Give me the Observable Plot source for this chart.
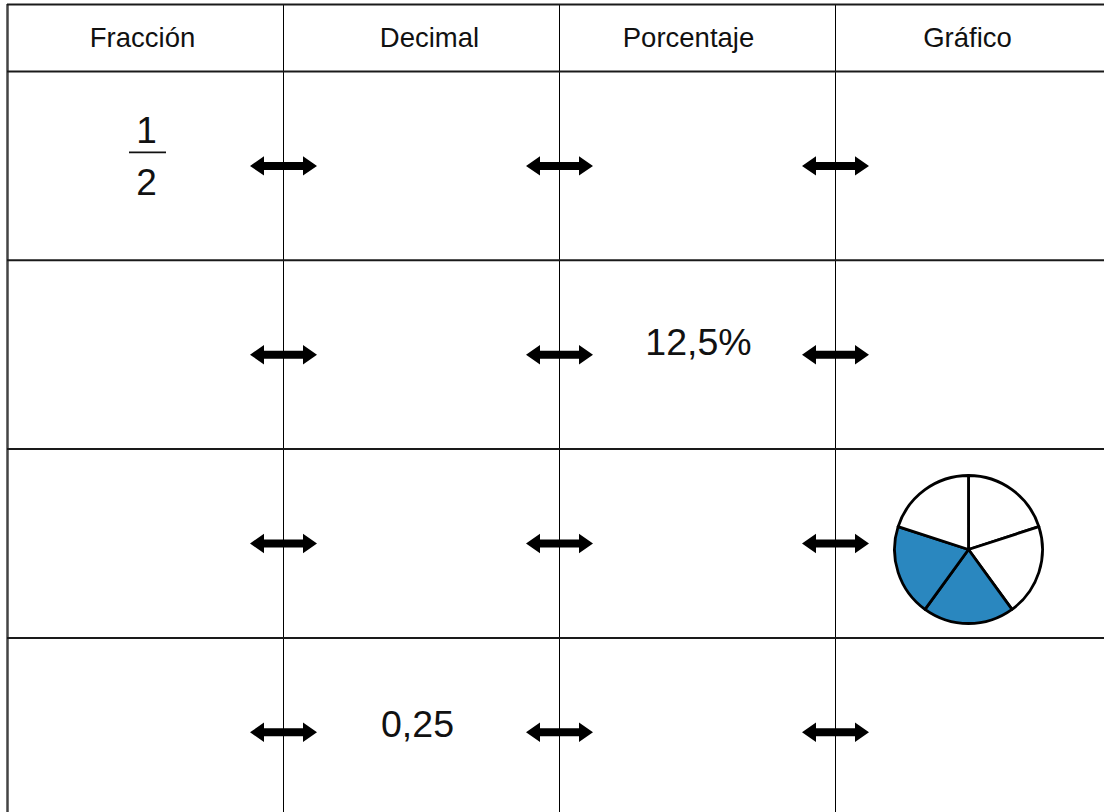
<!DOCTYPE html>
<html><head><meta charset="utf-8">
<script src="https://cdn.jsdelivr.net/npm/d3@7"></script>
<script src="https://cdn.jsdelivr.net/npm/@observablehq/plot@0.6"></script>
<style>html,body{margin:0;padding:0;background:#fff;} #chart svg{display:block;}</style>
</head><body><div id="chart"></div>
<script>
// ---- data ----
const headers = ["Fracción", "Decimal", "Porcentaje", "Gráfico"];
const rows = [0, 1, 2, 3];
const columnEdges = [1, 2, 3];
const fractionNumerator = "1";
const fractionDenominator = "2";
const fractionCell = {row: 0, col: 0};
const cellTexts = [
  {row: 1, col: 2, text: "12,5%"},
  {row: 3, col: 1, text: "0,25"}
];
const pieParts = [1, 1, 1, 1, 1];
const pieShaded = [false, false, true, true, false];
const pieCell = {row: 2, col: 3};

// ---- layout ----
const W = 1104, H = 812;
const ROW_PX = 188.8, HEADER_PX = 67, BODY_TOP_PX = 71;
const headerTop = -HEADER_PX / ROW_PX;
const headerMid = headerTop / 2;
const FONT = "Liberation Sans, Arial, Helvetica, sans-serif";

const arrowSymbol = {
  draw(ctx) {
    ctx.moveTo(-33.5, 0);
    ctx.lineTo(-19.5, -9.7);
    ctx.lineTo(-19.5, -4);
    ctx.lineTo(19.5, -4);
    ctx.lineTo(19.5, -9.7);
    ctx.lineTo(33.5, 0);
    ctx.lineTo(19.5, 9.7);
    ctx.lineTo(19.5, 4);
    ctx.lineTo(-19.5, 4);
    ctx.lineTo(-19.5, 9.7);
    ctx.closePath();
  }
};
const fractionBar = {
  draw(ctx) {
    ctx.moveTo(-18.5, -0.8);
    ctx.lineTo(18.5, -0.8);
    ctx.lineTo(18.5, 0.8);
    ctx.lineTo(-18.5, 0.8);
    ctx.closePath();
  }
};

const arrowData = rows.flatMap(r => columnEdges.map(c => ({row: r, edge: c})));
const horizontalEdges = [headerTop, ...rows];
const slices = d3.pie().sort(null).value(d => d)(pieParts)
  .map((s, i) => ({...s, shaded: pieShaded[i]}));
const arcGen = d3.arc().innerRadius(0).outerRadius(74);

const headerDx = [-3, 8, -9, -6];
const textOffsets = [{dx: 1, dy: -12}, {dx: -4, dy: -7}];

const sliceMarks = slices.map(s => Plot.dot([s], {
  x: () => pieCell.col + 0.5,
  y: () => pieCell.row + 0.5,
  dx: -5, dy: 6, r: 74,
  symbol: {draw(ctx) { arcGen.context(ctx)(s); arcGen.context(null); }},
  fill: s.shaded ? "#2a87bf" : "#ffffff",
  stroke: "#000", strokeWidth: 2.8, strokeLinejoin: "round"
}));

const chart = Plot.plot({
  width: W, height: H,
  margin: 0,
  style: {background: "#fff", fontFamily: FONT},
  x: {domain: [0, 4], range: [7, 1111], axis: null},
  y: {domain: [-BODY_TOP_PX / ROW_PX, (H - BODY_TOP_PX) / ROW_PX], range: [0, H], axis: null},
  marks: [
    // column dividers
    Plot.ruleX(columnEdges, {y1: headerTop, y2: 4.5, stroke: "#000", strokeWidth: 1}),
    // left border
    Plot.ruleX([0], {y1: headerTop, y2: 4.5, stroke: "#444", strokeWidth: 2.5}),
    // horizontal lines
    Plot.ruleY(horizontalEdges, {x1: 0, x2: 4.2, stroke: "#1a1a1a", strokeWidth: 2}),
    // headers
    ...headers.map((h, i) => Plot.text([h], {
      x: () => i + 0.5, y: () => headerMid, text: d => d,
      dx: headerDx[i], fontSize: 27.5, fill: "#111", fontFamily: FONT
    })),
    // arrows
    Plot.dot(arrowData, {x: "edge", y: d => d.row + 0.5, symbol: arrowSymbol, r: 5, fill: "#000", stroke: "none"}),
    // fraction
    Plot.text([fractionNumerator], {x: () => fractionCell.col + 0.5, y: () => fractionCell.row + 0.5, text: d => d, dx: 1, dy: -35, fontSize: 37, fill: "#111", fontFamily: FONT}),
    Plot.dot([fractionCell], {x: d => d.col + 0.5, y: d => d.row + 0.5, dx: 2, dy: -13.5, symbol: fractionBar, r: 5, fill: "#111", stroke: "none"}),
    Plot.text([fractionDenominator], {x: () => fractionCell.col + 0.5, y: () => fractionCell.row + 0.5, text: d => d, dx: 1, dy: 17, fontSize: 37, fill: "#111", fontFamily: FONT}),
    // values
    ...cellTexts.map((c, i) => Plot.text([c], {
      x: d => d.col + 0.5, y: d => d.row + 0.5, text: "text",
      dx: textOffsets[i].dx, dy: textOffsets[i].dy,
      fontSize: 37.5, fill: "#111", fontFamily: FONT
    })),
    // pie
    ...sliceMarks
  ]
});
document.getElementById("chart").appendChild(chart);
</script>
</body></html>
